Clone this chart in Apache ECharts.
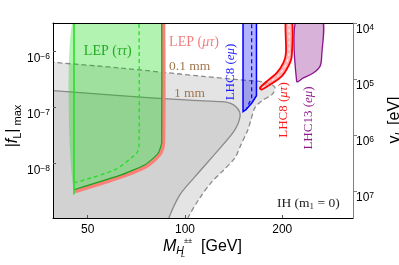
<!DOCTYPE html>
<html><head><meta charset="utf-8">
<script src="https://cdn.jsdelivr.net/npm/echarts@6/dist/echarts.min.js"></script>
<style>html,body{margin:0;padding:0;background:#fff}#c{width:399px;height:265px}</style>
</head><body><div id="c"></div>
<script>
// ---- axis ticks ----
const xTicks = [50, 100, 200];
const fTicks = [1e-8, 1e-7, 1e-6];
const vTicks = [1e4, 1e5, 1e6, 1e7];
const X_MIN = 39.05, X_MAX = 331;
const F_MIN = 1.04e-9, F_MAX = 3.16e-6;
const V_MIN = 1e4, V_MAX = 3.03e7;

// ---- 0.1 mm boundary (dashed gray) ----
const mm01Mass = [36, 39.13, 62.9, 113.7, 158.9, 173.1, 183.2, 189.9, 185.8, 173.1, 164.6, 160.0, 156.6, 149.0, 142.8, 130.2, 121.2, 111.3, 102.2, 99];
const mm01F    = [6.4e-7, 6.26e-7, 4.97e-7, 3.52e-7, 2.95e-7, 2.83e-7, 2.61e-7, 2.21e-7, 1.66e-7, 1.30e-7, 9.72e-8, 5.93e-8, 3.93e-8, 2.12e-8, 1.24e-8, 7.0e-9, 4.64e-9, 2.40e-9, 1.05e-9, 6e-10];
// ---- 1 mm boundary (solid gray) ----
const mm1Mass = [36, 39.13, 62.9, 103.6, 130.2, 137.8, 143.8, 147.5, 148.0, 145.9, 140.8, 125.6, 107.4, 96.5, 89.2, 87];
const mm1F    = [2.0e-7, 1.96e-7, 1.59e-7, 1.32e-7, 1.243e-7, 1.17e-7, 1.012e-7, 8.24e-8, 6.71e-8, 5.03e-8, 3.48e-8, 1.59e-8, 5.69e-9, 2.72e-9, 1.05e-9, 6e-10];
// ---- LEP (tau tau) ----
const lepTTMass = [45.35, 45.35, 63.84, 75.2, 80.76, 83.1, 84.7, 84.7];
const lepTTF    = [4e-6, 3.33e-9, 6.18e-9, 9.32e-9, 1.30e-8, 1.59e-8, 2.30e-8, 4e-6];
const lepTTEdgeMass = [45.35, 45.35];
const lepTTEdgeF    = [4e-6, 2.72e-9];
const lepTTDashMass = [72.06, 72.06, 71.04, 69.04, 60.74, 45.68];
const lepTTDashF    = [4e-6, 1.88e-8, 1.53e-8, 1.30e-8, 7.60e-9, 4.45e-9];
// ---- LEP (mu tau) ----
const lepMTMass = [85.8, 85.8, 84.3, 81.3, 75.7, 63.84, 45.68];
const lepMTF    = [4e-6, 2.30e-8, 1.53e-8, 1.19e-8, 8.59e-9, 5.69e-9, 3.07e-9];
// ---- LHC8 (e mu) ----
const lhc8EMMass = [151.2, 151.2, 154.4, 161.2, 166.4, 166.4];
const lhc8EMF    = [4e-6, 8.24e-8, 8.95e-8, 1.19e-7, 1.59e-7, 4e-6];
const lhc8EMDashMass = [160.8, 160.8, 155.2];
const lhc8EMDashF    = [4e-6, 1.45e-7, 9.6e-8];
// ---- LHC8 (mu tau) ----
const lhc8MTLeftMass  = [205.3, 205.3, 201.5, 192.2, 179.0, 170.6];
const lhc8MTLeftF     = [4e-6, 9.32e-7, 6.10e-7, 4.05e-7, 2.86e-7, 2.18e-7];
const lhc8MTRightMass = [213.9, 213.9, 208.7, 199.1, 183.2, 172.7];
const lhc8MTRightF    = [4e-6, 8.01e-7, 5.31e-7, 3.52e-7, 2.50e-7, 2.04e-7];
const lhc8MTMidMass   = [209.6, 209.6, 205.0, 195.6, 181.0, 171.6];
const lhc8MTMidF      = [4e-6, 8.6e-7, 5.7e-7, 3.78e-7, 2.68e-7, 2.11e-7];
// ---- LHC13 (e mu) ----
const lhc13Mass = [221.6, 221.6, 232.3, 249.4, 261.6, 264.8, 264.8];
const lhc13F    = [4e-6, 2.86e-7, 3.30e-7, 4.05e-7, 5.31e-7, 8.01e-7, 4e-6];

const serif = 'Liberation Serif', sans = 'Liberation Sans';

function pts(api, xs, ys) { return xs.map((x, i) => api.coord([x, ys[i]])); }
function poly(xs, ys, style, z, smooth) {
  return { type: 'custom', coordinateSystem: 'cartesian2d', clip: true, silent: true, z: z,
    data: [[xs[0], ys[0]]],
    renderItem: (p, api) => ({ type: 'polygon', shape: { points: pts(api, xs, ys), smooth: smooth || 0 }, style: style }) };
}
function line(xs, ys, style, z, smooth) {
  return { type: 'custom', coordinateSystem: 'cartesian2d', clip: true, silent: true, z: z,
    data: [[xs[0], ys[0]]],
    renderItem: (p, api) => ({ type: 'polyline', shape: { points: pts(api, xs, ys), smooth: smooth || 0 },
      style: Object.assign({ fill: null, lineJoin: 'round' }, style) }) };
}

const lightPoly = [mm01Mass.concat([99, 30, 30]), mm01F.concat([1e-10, 1e-10, 6.4e-7])];
const darkPoly = [mm1Mass.concat([87, 30, 30]), mm1F.concat([1e-10, 1e-10, 2.0e-7])];
const mtPoly = [lhc8MTLeftMass.concat(lhc8MTRightMass.slice().reverse()), lhc8MTLeftF.concat(lhc8MTRightF.slice().reverse())];

function expLabel(v) {
  const e = Math.round(Math.log10(v));
  return '{b|10}{s|' + (e < 0 ? '\u2212' + (-e) : e) + '}';
}
const tickRich = { b: { fontSize: 12, lineHeight: 14, fontFamily: sans, color: '#000' },
                   s: { fontSize: 8.5, lineHeight: 9, verticalAlign: 'top', fontFamily: sans, color: '#000' } };

const S = 0.3;
const option = {
  animation: false,
  backgroundColor: '#fff',
  grid: { left: 53, right: 46, top: 23, bottom: 47 },
  xAxis: [
    { type: 'log', logBase: 2, min: X_MIN, max: X_MAX, position: 'bottom', z: 10,
      axisLine: { show: true, lineStyle: { color: '#000', width: 1 } },
      axisTick: { show: true, inside: true, length: 3, customValues: xTicks, lineStyle: { color: '#555' } },
      axisLabel: { customValues: xTicks, margin: 6, fontSize: 12, color: '#000', fontFamily: sans },
      splitLine: { show: false } },
    { type: 'log', logBase: 2, min: X_MIN, max: X_MAX, position: 'top', z: 10,
      axisLine: { show: true, lineStyle: { color: '#000', width: 1 } },
      axisTick: { show: false }, axisLabel: { show: false }, splitLine: { show: false } }
  ],
  yAxis: [
    { type: 'log', min: F_MIN, max: F_MAX, position: 'left', z: 10,
      axisLine: { show: true, lineStyle: { color: '#000', width: 1 } },
      axisTick: { show: true, inside: true, length: 3, customValues: fTicks, lineStyle: { color: '#555' } },
      axisLabel: { customValues: fTicks, margin: 3, formatter: expLabel, rich: tickRich, padding: [16, 0, 0, 0] },
      splitLine: { show: false } },
    { type: 'log', min: V_MIN, max: V_MAX, inverse: true, position: 'right', z: 10,
      axisLine: { show: true, lineStyle: { color: '#808080', width: 1 } },
      axisTick: { show: true, inside: false, length: 4, customValues: vTicks, lineStyle: { color: '#808080' } },
      axisLabel: { customValues: vTicks, margin: 3, formatter: expLabel, rich: tickRich, padding: [14, 0, 0, 0] },
      splitLine: { show: false } }
  ],
  series: [
    poly(lightPoly[0], lightPoly[1], { fill: '#e4e4e4' }, 1, S),
    poly(darkPoly[0], darkPoly[1], { fill: '#d2d2d2' }, 2, S),
    line(mm01Mass, mm01F, { stroke: '#8a8a8a', lineWidth: 1.3, lineDash: [5, 3] }, 3, S),
    line(mm1Mass, mm1F, { stroke: '#8a8a8a', lineWidth: 1.3 }, 3, S),
    poly(lepTTMass, lepTTF, { fill: 'rgba(0,215,0,0.30)' }, 4, 0.15),
    line(lepTTDashMass, lepTTDashF, { stroke: '#22dd22', lineWidth: 1.3, lineDash: [4, 3] }, 5, S),
    line(lepMTMass, lepMTF, { stroke: '#fa8078', lineWidth: 3.5 }, 5, S),
    line(lepTTMass.slice(1), lepTTF.slice(1), { stroke: '#1e9e1e', lineWidth: 1.2 }, 6, 0.15),
    line(lepTTEdgeMass, lepTTEdgeF, { stroke: '#22dd22', lineWidth: 1.5 }, 6, 0),
    poly(lhc8EMMass, lhc8EMF, { fill: 'rgba(0,0,255,0.30)', stroke: '#0000ff', lineWidth: 1.5 }, 7, 0),
    line(lhc8EMDashMass, lhc8EMDashF, { stroke: '#0000ff', lineWidth: 1.2, lineDash: [4, 3] }, 7, 0),
    poly(mtPoly[0], mtPoly[1], { fill: 'rgba(255,0,0,0.30)', stroke: '#ff0000', lineWidth: 1.8 }, 8, S),
    line(lhc8MTMidMass, lhc8MTMidF, { stroke: '#ffffff', lineWidth: 1, lineDash: [3, 3] }, 8, S),
    poly(lhc13Mass, lhc13F, { fill: 'rgba(128,0,128,0.30)', stroke: '#8b158b', lineWidth: 1.3 }, 9, S)
  ],
  graphic: [
    { type: 'text', x: 107.7, y: 51.7, z: 100, style: { text: '{n|LEP (}{i|ττ}{n|)}', align: 'center', verticalAlign: 'middle',
      rich: { n: { fontFamily: serif, fontSize: 14, fill: '#22aa22' }, i: { fontFamily: serif, fontSize: 14, fontStyle: 'italic', fill: '#22aa22' } } } },
    { type: 'text', x: 194, y: 42.7, z: 100, style: { text: '{n|LEP (}{i|μτ}{n|)}', align: 'center', verticalAlign: 'middle',
      rich: { n: { fontFamily: serif, fontSize: 14, fill: '#f08080' }, i: { fontFamily: serif, fontSize: 14, fontStyle: 'italic', fill: '#f08080' } } } },
    { type: 'text', x: 189.7, y: 66.7, z: 100, style: { text: '0.1 mm', align: 'center', verticalAlign: 'middle', fontFamily: serif, fontSize: 13.5, fill: '#a07850' } },
    { type: 'text', x: 189.5, y: 93.5, z: 100, style: { text: '1 mm', align: 'center', verticalAlign: 'middle', fontFamily: serif, fontSize: 13.5, fill: '#a07850' } },
    { type: 'text', x: 231, y: 72, rotation: Math.PI / 2, z: 100, style: { text: '{n|LHC8 (}{i|eμ}{n|)}', align: 'center', verticalAlign: 'middle',
      rich: { n: { fontFamily: serif, fontSize: 13, fill: '#1a1aff' }, i: { fontFamily: serif, fontSize: 13, fontStyle: 'italic', fill: '#1a1aff' } } } },
    { type: 'text', x: 283.5, y: 110, rotation: Math.PI / 2, z: 100, style: { text: '{n|LHC8 (}{i|μτ}{n|)}', align: 'center', verticalAlign: 'middle',
      rich: { n: { fontFamily: serif, fontSize: 13, fill: '#ff1a1a' }, i: { fontFamily: serif, fontSize: 13, fontStyle: 'italic', fill: '#ff1a1a' } } } },
    { type: 'text', x: 308.5, y: 118, rotation: Math.PI / 2, z: 100, style: { text: '{n|LHC13 (}{i|eμ}{n|)}', align: 'center', verticalAlign: 'middle',
      rich: { n: { fontFamily: serif, fontSize: 13, fill: '#8b1a8b' }, i: { fontFamily: serif, fontSize: 13, fontStyle: 'italic', fill: '#8b1a8b' } } } },
    { type: 'text', x: 308.3, y: 203.3, z: 100, style: { text: '{n|IH (m}{sub|1}{n| = 0)}', align: 'center', verticalAlign: 'middle',
      rich: { n: { fontFamily: serif, fontSize: 13.5, lineHeight: 16, fill: '#222' }, sub: { fontFamily: serif, fontSize: 9, lineHeight: 9, verticalAlign: 'bottom', fill: '#222' } } } },
    // x axis name
    { type: 'text', x: 163, y: 246.7, z: 100, style: { text: '{m|M}{h|H}{s|±±}{n|  [GeV]}', align: 'left', verticalAlign: 'middle',
      rich: { m: { fontFamily: sans, fontSize: 16, fontStyle: 'italic', lineHeight: 20, fill: '#000' },
              h: { fontFamily: sans, fontSize: 10.5, fontStyle: 'italic', lineHeight: 10, verticalAlign: 'bottom', fill: '#000' },
              s: { fontFamily: sans, fontSize: 7.5, lineHeight: 14, verticalAlign: 'top', fill: '#000' },
              n: { fontFamily: sans, fontSize: 16, lineHeight: 20, fill: '#000' } } } },
    { type: 'text', x: 181, y: 255, z: 100, style: { text: 'L', align: 'left', verticalAlign: 'middle', fontFamily: sans, fontSize: 7.5, fontStyle: 'italic', fill: '#000' } },
    // left y name
    { type: 'text', x: 13, y: 126, rotation: Math.PI / 2, z: 100, style: { text: '{n||}{i|f}{sub|L}{n||}{sub| max}', align: 'center', verticalAlign: 'middle',
      rich: { n: { fontFamily: sans, fontSize: 16, lineHeight: 20, fill: '#000' }, i: { fontFamily: sans, fontSize: 16, fontStyle: 'italic', lineHeight: 20, fill: '#000' },
              sub: { fontFamily: sans, fontSize: 11, lineHeight: 11, verticalAlign: 'bottom', fill: '#000' } } } },
    // right y name
    { type: 'text', x: 395, y: 120, rotation: Math.PI / 2, z: 100, style: { text: '{n|v}{sub|L}{n| [eV]}', align: 'center', verticalAlign: 'middle',
      rich: { n: { fontFamily: sans, fontSize: 16, lineHeight: 20, fill: '#000' }, sub: { fontFamily: sans, fontSize: 11, fontStyle: 'italic', lineHeight: 11, verticalAlign: 'bottom', fill: '#000' } } } }
  ]
};
const chart = echarts.init(document.getElementById('c'), null, { renderer: 'canvas', width: 399, height: 265 });
chart.setOption(option);
</script></body></html>
